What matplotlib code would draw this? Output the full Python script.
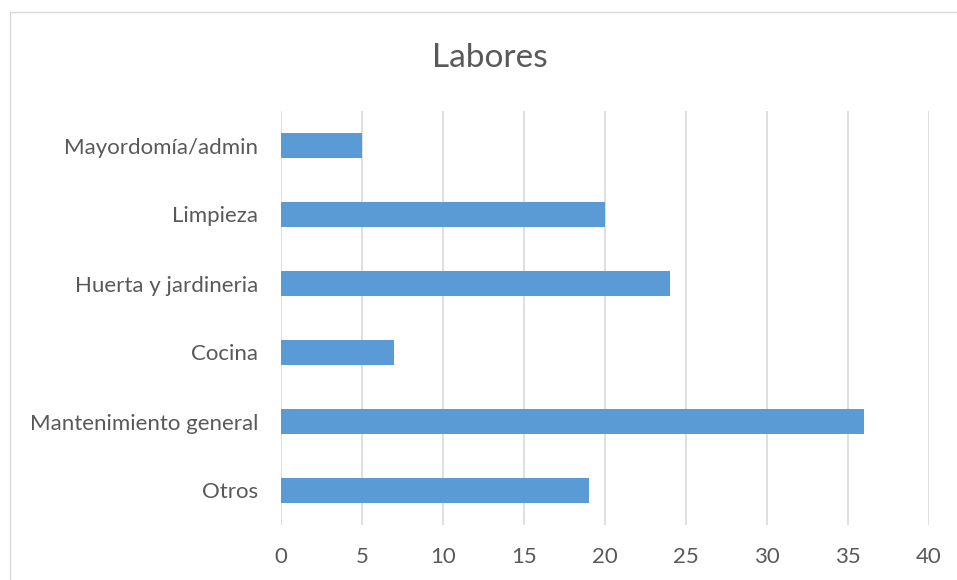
import matplotlib
matplotlib.use("Agg")
import matplotlib.pyplot as plt
from matplotlib.patches import Rectangle

categories = ["Mayordomía/admin", "Limpieza", "Huerta y jardineria", "Cocina",
              "Mantenimiento general", "Otros"]
values = [5, 20, 24, 7, 36, 19]
xticks = [0, 5, 10, 15, 20, 25, 30, 35, 40]
title = "Labores"

plt.rcParams['font.family'] = ['Lato', 'DejaVu Sans']

fig = plt.figure(figsize=(9.57, 5.80), dpi=100)
fig.patch.set_facecolor("white")
# chart border (extends past bottom/right of the image)
fig.patches.append(Rectangle((10/957, -0.1), 1.2, 1 - 12/580 + 0.1, transform=fig.transFigure,
                             fill=False, edgecolor="#D9D9D9", linewidth=1.0))

ax = fig.add_axes([281/957, 1 - 525/580, (929 - 281)/957, (525 - 111)/580])
n = len(categories)
pos = list(range(n))[::-1]
ax.barh(pos, values, height=0.35, color="#5B9BD5", zorder=3)
ax.set_yticks(pos)
ax.set_yticklabels(categories)
ax.set_ylim(-0.5, n - 0.5)
ax.set_xlim(0, 40)
ax.set_xticks(xticks)
ax.set_xticklabels([str(t) for t in xticks])
ax.grid(axis="x", color="#D9D9D9", linewidth=1.2, zorder=0)
for s in ax.spines.values():
    s.set_visible(False)
ax.tick_params(axis="both", length=0, colors="#595959", labelsize=16)
ax.tick_params(axis="y", pad=16.5)
ax.tick_params(axis="x", pad=16)
fig.text(490/957, 1 - 58/580, title, ha="center", va="center",
         fontsize=24, color="#595959")

fig.savefig("out.png", dpi=100)
